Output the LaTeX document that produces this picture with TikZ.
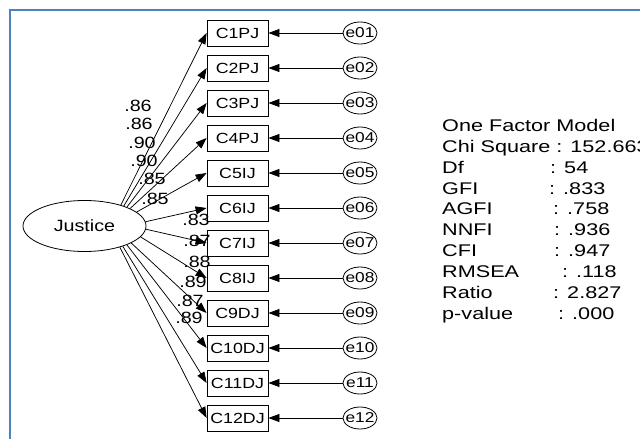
\documentclass[tikz,border=0pt]{standalone}
\usepackage{fontspec}
\setmainfont[FakeStretch=1.21]{Liberation Sans}
\newfontfamily\statfont[FakeStretch=1.28]{Liberation Sans}
\usetikzlibrary{arrows.meta,shapes.geometric}
\definecolor{frameblue}{RGB}{79,129,189}
\begin{document}
\begin{tikzpicture}[x=1pt,y=-1pt,
  ind/.style={draw, line width=0.8pt, minimum width=61pt, minimum height=26pt, inner sep=0pt, font=\fontsize{14.7}{15}\selectfont},
  err/.style={draw, ellipse, line width=0.8pt, minimum width=34pt, minimum height=22pt, inner sep=0pt, font=\fontsize{14.3}{15}\selectfont},
  lat/.style={draw, ellipse, line width=0.8pt, minimum width=123pt, minimum height=51pt, inner sep=0pt, font=\fontsize{16.3}{17}\selectfont},
  load/.style={inner sep=0pt, font=\fontsize{16.3}{17}\selectfont},
  stat/.style={anchor=base west, inner sep=0pt, font=\statfont\fontsize{16.9}{17}\selectfont},
  arr/.style={-{Triangle[length=11pt,width=8pt]}, line width=0.75pt}
]
\useasboundingbox (0,0) rectangle (640,439);
\draw[frameblue, line width=2.5pt] (10,440) -- (10,10) -- (641,10);

\node[lat] (J) at (84.5,226) {Justice};

\foreach \i/\lab/\e in {1/C1PJ/e01,2/C2PJ/e02,3/C3PJ/e03,4/C4PJ/e04,5/C5IJ/e05,6/C6IJ/e06,7/C7IJ/e07,8/C8IJ/e08,9/C9DJ/e09,10/C10DJ/e10,11/C11DJ/e11,12/C12DJ/e12} {
  \node[ind] (C\i) at (237.5, {33+35*(\i-1)}) {\lab};
  \node[err] (e\i) at (360, {33+35*(\i-1)}) {\makebox[0pt]{\e}};
  \draw[arr] (e\i) -- (C\i);
}

\foreach \i/\a in {1/30.6,2/27.1,3/24.1,4/21.6,5/15.2,6/4.7,7/-3.8,8/-11,9/-20.4,10/-24.7,11/-28,12/-31.8} {
  \draw[arr] (J.\a) -- (C\i.west);
}

\foreach \i/\x/\y/\v in {1/138/106/.86,2/139/124/.86,3/142/143/.90,4/144/161/.90,5/152/179/.85,6/155/199/.85,7/196/220/.83,8/197/241/.87,9/197/262/.88,10/193/282/.89,11/190/301/.87,12/189/318/.89} {
  \node[load] (L\i) at (\x,\y) {\v};
}

\node[stat] (s0) at (442,131.5) {One Factor Model};
\node[stat] (s1) at (442,152.4) {Chi Square : 152.663};
\node[stat] (s2) at (442,173.2) {Df};
\node[stat] (v2) at (550,173.2) {: 54};
\node[stat] (s3) at (442,194) {GFI};
\node[stat] (v3) at (549,194) {: .833};
\node[stat] (s4) at (442,214.9) {AGFI};
\node[stat] (v4) at (553,214.9) {: .758};
\node[stat] (s5) at (442,235.8) {NNFI};
\node[stat] (v5) at (554,235.8) {: .936};
\node[stat] (s6) at (442,256.6) {CFI};
\node[stat] (v6) at (554,256.6) {: .947};
\node[stat] (s7) at (442,277.5) {RMSEA};
\node[stat] (v7) at (562,277.5) {: .118};
\node[stat] (s8) at (442,298.3) {Ratio};
\node[stat] (v8) at (553,298.3) {: 2.827};
\node[stat] (s9) at (442,319.2) {p-value};
\node[stat] (v9) at (558,319.2) {: .000};
\end{tikzpicture}
\end{document}
